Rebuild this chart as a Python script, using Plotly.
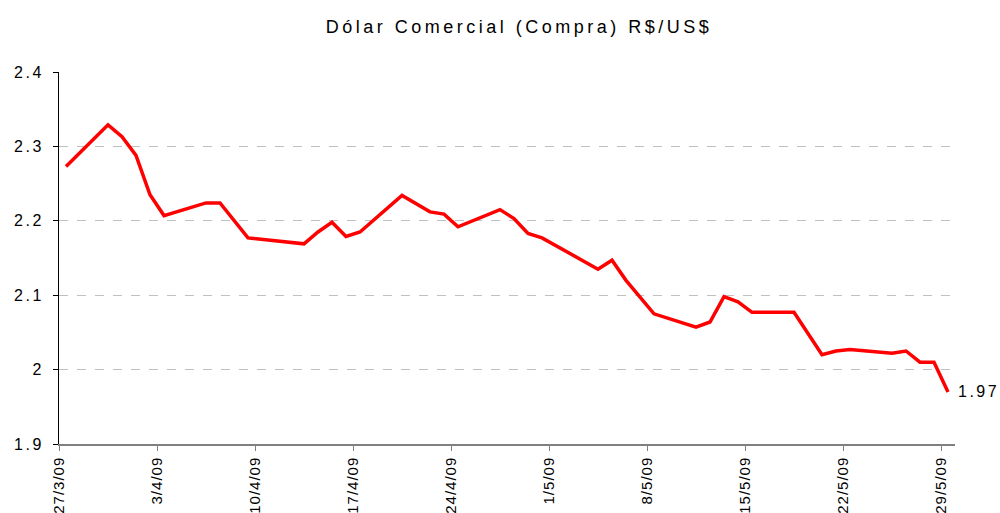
import pandas as pd
import plotly.graph_objects as go

dates = ["2009-03-27", "2009-03-30", "2009-03-31", "2009-04-01", "2009-04-02", "2009-04-03",
         "2009-04-06", "2009-04-07", "2009-04-09", "2009-04-13", "2009-04-14", "2009-04-15",
         "2009-04-16", "2009-04-17", "2009-04-20", "2009-04-22", "2009-04-23", "2009-04-24",
         "2009-04-27", "2009-04-28", "2009-04-29", "2009-04-30", "2009-05-04", "2009-05-05",
         "2009-05-06", "2009-05-08", "2009-05-11", "2009-05-12", "2009-05-13", "2009-05-14",
         "2009-05-15", "2009-05-18", "2009-05-20", "2009-05-21", "2009-05-22", "2009-05-25",
         "2009-05-26", "2009-05-27", "2009-05-28", "2009-05-29"]
values = [2.273, 2.329, 2.313, 2.288, 2.235, 2.207,
          2.224, 2.224, 2.177, 2.169, 2.185, 2.198,
          2.179, 2.185, 2.234, 2.212, 2.209, 2.192,
          2.215, 2.203, 2.183, 2.177, 2.135, 2.147,
          2.120, 2.075, 2.057, 2.064, 2.098, 2.091,
          2.077, 2.077, 2.020, 2.025, 2.027, 2.022,
          2.025, 2.010, 2.010, 1.970]

tick_dates = ["2009-03-27", "2009-04-03", "2009-04-10", "2009-04-17", "2009-04-24",
              "2009-05-01", "2009-05-08", "2009-05-15", "2009-05-22", "2009-05-29"]
tick_labels = ["27/3/09", "3/4/09", "10/4/09", "17/4/09", "24/4/09",
               "1/5/09", "8/5/09", "15/5/09", "22/5/09", "29/5/09"]
y_ticks = [1.9, 2.0, 2.1, 2.2, 2.3, 2.4]
y_labels = ["1.9", "2", "2.1", "2.2", "2.3", "2.4"]
title = "Dólar Comercial (Compra) R$/US$"
last_label = "1.97"

FONT = "Liberation Sans, Arial, sans-serif"
x = pd.to_datetime(dates) + pd.Timedelta(hours=12)

def spaced(t, px):
    return f'<span style="letter-spacing:{px}px">{t}</span>'

fig = go.Figure()
fig.add_trace(go.Scatter(x=x, y=values, mode="lines",
                         line=dict(color="#ff0000", width=3.5),
                         showlegend=False, hoverinfo="x+y"))

fig.add_annotation(x=x[-1], y=values[-1], text=spaced(last_label, 2.5),
                   showarrow=False, xanchor="left", yanchor="middle",
                   xshift=9, borderpad=0,
                   font=dict(size=16, color="#000000", family=FONT))

fig.update_layout(
    width=1000, height=513,
    margin=dict(l=59, r=45, t=72, b=69),
    paper_bgcolor="white", plot_bgcolor="white",
    title=dict(text=spaced(title, 3.5), x=0.519, xanchor="center", y=0.947, yanchor="middle",
               font=dict(size=18, color="#000000", family=FONT)),
    font=dict(family=FONT, color="#000000"),
    xaxis=dict(
        type="date", automargin=False,
        range=[pd.Timestamp("2009-03-27"), pd.Timestamp("2009-05-30")],
        tickvals=pd.to_datetime(tick_dates),
        ticktext=[spaced(t, 1) for t in tick_labels],
        tickangle=-90,
        tickfont=dict(size=15),
        ticks="outside", ticklen=5, tickcolor="#808080",
        showline=True, linecolor="#808080", linewidth=1.5,
        showgrid=False, zeroline=False,
    ),
    yaxis=dict(
        automargin=False,
        range=[1.9, 2.4],
        tickvals=y_ticks,
        ticktext=[spaced(t, 2.5) for t in y_labels],
        tickfont=dict(size=16),
        ticklabelstandoff=6,
        ticks="outside", ticklen=5, tickcolor="#000000",
        showline=True, linecolor="#000000", linewidth=1,
        showgrid=True, gridcolor="#c0c0c0", griddash="dash", gridwidth=1,
        zeroline=False,
    ),
)

fig.write_html("out.html", config={"displayModeBar": False},
               post_script="document.body.style.margin='0';document.body.style.padding='0';")
